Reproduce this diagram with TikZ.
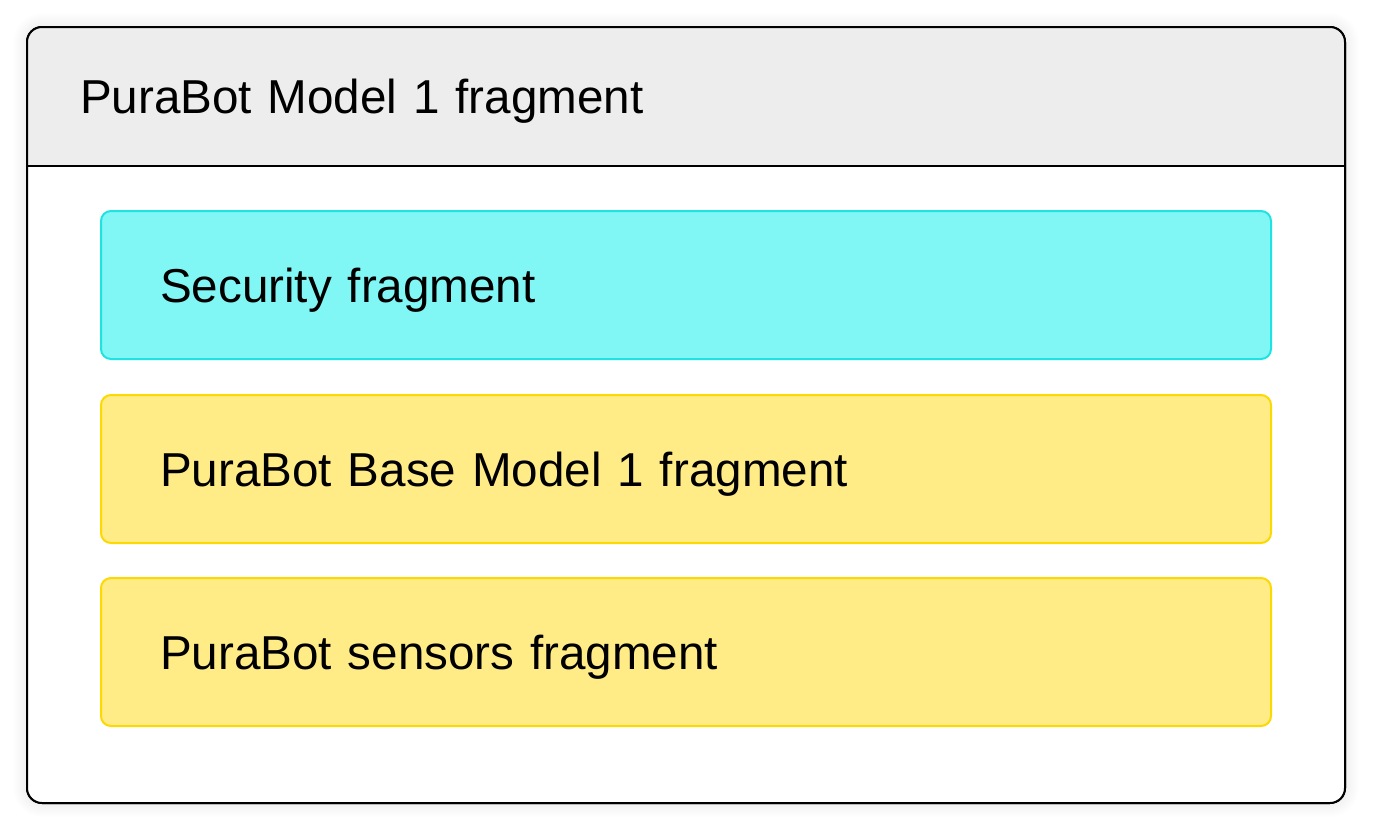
\documentclass[tikz,border=0pt]{standalone}
\usepackage{fontspec}
\setmainfont{Liberation Sans}
\usepackage{tikz}
\usetikzlibrary{positioning}
\definecolor{headgray}{HTML}{EDEDED}
\definecolor{cyanfill}{HTML}{80F7F5}
\definecolor{cyanline}{HTML}{1FE3E3}
\definecolor{yellowfill}{HTML}{FFEC86}
\definecolor{yellowline}{HTML}{FCD900}
\tikzset{
	every node/.append style={
		outer sep=0pt,
		text depth=0pt,
		font={\fontsize{47.6}{52}\selectfont},
	},
	outerbox/.append style={
		draw=black,
		line width=2pt,
		rounded corners=15pt,
		minimum width=1318pt,
		minimum height=776pt,
	},
	headbar/.append style={
		align = left,
		text width=1212pt,
		inner xsep=53pt,
		minimum height=139pt,
	},
	fragbox/.append style={
		draw,
		line width=2pt,
		rounded corners=10pt,
		align = left,
		text width=1052pt,
		inner xsep=59pt,
		minimum height=148pt,
	},
	secfrag/.append style={
		fragbox,
		fill=cyanfill,
		draw=cyanline,
	},
	basefrag/.append style={
		fragbox,
		fill=yellowfill,
		draw=yellowline,
	}
}

\begin{document}
\begin{tikzpicture}[x=1pt, y=-1pt]
\useasboundingbox (0,0) rectangle (1375,833);

\node(frame)[outerbox] at (686,415) {};
% soft shadow round the frame
\foreach \s in {1,...,14}
	\fill[black, opacity=0.005, rounded corners=15pt+\s pt]
		([shift={(-\s,\s)}]frame.south west) rectangle ([shift={(\s,-\s)}]frame.north east);
\fill[white, rounded corners=15pt] (frame.south west) rectangle (frame.north east);

\node(head)[headbar, anchor=north west] at (frame.north west) {PuraBot Model 1 fragment};
\begin{scope}
	\clip[rounded corners=15pt] (frame.south west) rectangle (frame.north east);
	\fill[headgray] (frame.north west) rectangle (head.south -| frame.east);
\end{scope}
\node[headbar, anchor=north west] at (frame.north west) {PuraBot Model 1 fragment};
\draw[line width=1.5pt] (head.south -| frame.west) -- (head.south -| frame.east);
\node[outerbox] at (frame) {};

\node(sec)[secfrag, below=45pt of head]{Security fragment};
\node(base)[basefrag, below=36pt of sec]{PuraBot Base Model 1 fragment};
\node(sens)[basefrag, below=35pt of base]{PuraBot sensors fragment};

\end{tikzpicture}
\end{document}
